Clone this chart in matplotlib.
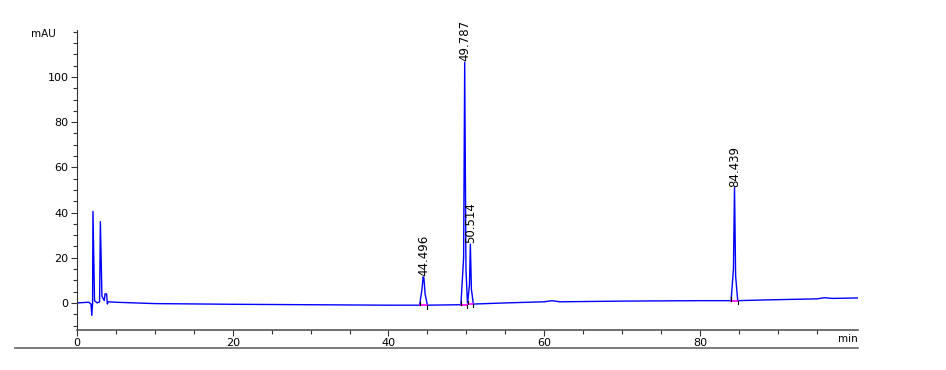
import numpy as np
import matplotlib.pyplot as plt
from matplotlib.lines import Line2D

# trace points (time in min, signal in mAU)
t = [0, 1.5, 1.8, 1.9, 2.0, 2.05, 2.25, 2.6, 2.9, 3.0, 3.2, 3.5, 3.6, 3.8, 3.9, 4.0,
     5, 10, 20, 30, 40, 44.0, 44.3, 44.45, 44.55, 44.7, 45.0,
     49.3, 49.65, 49.787, 49.95, 50.15, 50.4, 50.514, 50.65, 50.9,
     55, 60, 61, 62, 70, 80, 84.0, 84.3, 84.439, 84.58, 84.85, 88, 95, 96, 97, 100.3]
mau = [0.0, 0.3, -0.5, -5.5, 0.0, 40.5, 1.0, 0.0, 0.5, 36.0, 3.0, 1.0, 4.0, 4.0, -0.5, 0.5,
       0.3, -0.3, -0.6, -0.8, -1.0, -1.0, 6.0, 11.5, 11.0, 4.0, -1.0,
       -0.8, 20.0, 106.5, 15.0, -0.5, 8.0, 26.0, 6.0, -0.5,
       0.0, 0.5, 1.0, 0.5, 0.8, 1.0, 1.0, 15.0, 51.0, 12.0, 1.0, 1.3, 1.8, 2.3, 2.0, 2.2]

# labelled peaks: retention time, apex, integration start/end
peak_rt = [44.496, 49.787, 50.514, 84.439]
peak_h = [11.5, 106.5, 26.0, 51.0]
peak_start = [44.0, 49.3, 50.2, 84.0]
peak_end = [45.0, 50.1, 50.9, 84.85]
peak_base = [-1.0, -0.8, -0.5, 1.0]

fig = plt.figure(figsize=(9.46, 3.7), dpi=100)
ax = fig.add_axes([0.0814, 0.108, 0.8256, 0.811])

ax.plot(t, mau, color="#0000ff", lw=1.0)

for rt, h, s, e, b in zip(peak_rt, peak_h, peak_start, peak_end, peak_base):
    ax.plot([s, e], [b, b], color="#ff00ff", lw=1.2)
    ax.plot([s, s], [b, b + 1.5], color="black", lw=0.8)
    ax.plot([e, e], [b, b - 1.5], color="black", lw=0.8)
    ax.text(rt, h + 0.5, "%.3f" % rt, rotation=90, ha="center", va="bottom", fontsize=8.5)

ax.set_xlim(0, 100.3)
ax.set_ylim(-12, 120.8)
ax.set_xticks([0, 20, 40, 60, 80])
ax.set_xticks(np.arange(0, 100, 5), minor=True)
ax.set_yticks([0, 20, 40, 60, 80, 100])
ax.set_yticks(np.arange(-10, 121, 5), minor=True)
ax.tick_params(labelsize=8, length=4, width=0.8, color="#333333", pad=2)
ax.tick_params(which="minor", length=3, width=0.8, color="#333333")
ax.spines["top"].set_visible(False)
ax.spines["right"].set_visible(False)
ax.spines["left"].set_color("#333333")
ax.spines["bottom"].set_color("#555555")
ax.spines["bottom"].set_linewidth(1.2)

fig.text(0.033, 0.9, "mAU", fontsize=7.5)
fig.text(0.907, 0.075, "min", fontsize=7.5, ha="right")
fig.add_artist(Line2D([0.016, 0.907], [0.059, 0.059], color="#666666", lw=1.2))

plt.savefig("out.png")
